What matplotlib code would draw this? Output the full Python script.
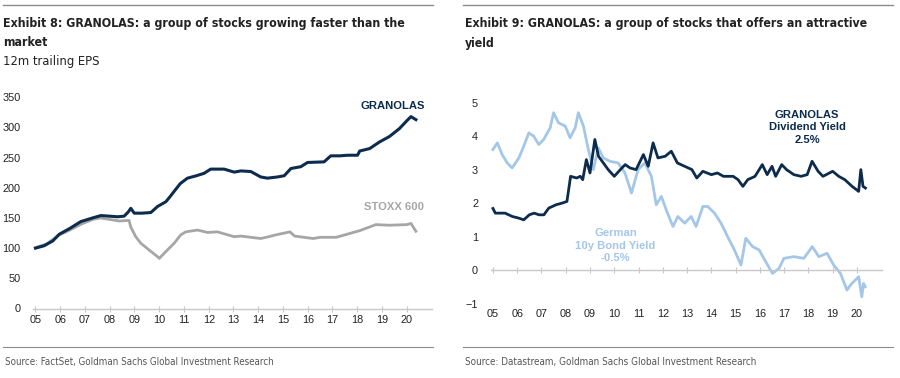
import matplotlib
matplotlib.use('Agg')
import matplotlib.pyplot as plt
from matplotlib.lines import Line2D
from matplotlib import font_manager

plt.rcParams['font.family'] = ['Liberation Sans', 'DejaVu Sans']

# ---------- Exhibit 8: 12m trailing EPS ----------
gran_eps_t = [2005.0, 2005.35, 2005.7, 2005.96, 2006.4, 2006.83, 2007.3, 2007.64, 2008.0, 2008.31,
              2008.58, 2008.75, 2008.85, 2008.99, 2009.3, 2009.66, 2009.93, 2010.27, 2010.45, 2010.6,
              2010.85, 2011.14, 2011.5, 2011.81, 2012.08, 2012.62, 2013.03, 2013.3, 2013.7, 2014.1,
              2014.37, 2014.78, 2015.05, 2015.32, 2015.72, 2015.99, 2016.66, 2016.93, 2017.3, 2017.61,
              2018.01, 2018.1, 2018.5, 2018.9, 2019.3, 2019.7, 2020.0, 2020.17, 2020.37]
gran_eps = [100, 104, 112, 123, 133, 144, 150, 154, 153, 152,
            153, 160, 166, 158, 158, 159, 169, 177, 186, 194,
            207, 216, 220, 224, 231, 231, 226, 228, 227, 218,
            216, 218, 220, 232, 235, 242, 243, 253, 253, 254,
            254, 261, 265, 276, 285, 298, 311, 318, 313]

stoxx_t = [2005.0, 2005.45, 2005.92, 2006.39, 2006.86, 2007.34, 2007.62, 2008.09, 2008.38, 2008.78,
           2008.85, 2009.05, 2009.26, 2009.59, 2009.93, 2010.0, 2010.33, 2010.6, 2010.87, 2011.07,
           2011.55, 2011.95, 2012.35, 2012.6, 2013.03, 2013.3, 2013.7, 2014.1, 2014.43, 2014.71,
           2015.28, 2015.47, 2015.84, 2016.22, 2016.5, 2017.15, 2018.1, 2018.75, 2019.3, 2020.0,
           2020.17, 2020.37]
stoxx_eps = [101, 107, 121, 130, 140, 148, 150, 147, 145, 146,
             135, 119, 108, 97, 86, 83, 97, 108, 122, 127,
             130, 126, 127, 124, 119, 120, 118, 116, 119, 122,
             127, 120, 118, 116, 118, 118, 129, 139, 138, 139,
             141, 128]

eps_yticks = [0, 50, 100, 150, 200, 250, 300, 350]

# ---------- Exhibit 9: yields (%) ----------
bund_t = [2005.0, 2005.18, 2005.38, 2005.59, 2005.79, 2006.07, 2006.27, 2006.48, 2006.68, 2006.89,
          2007.09, 2007.36, 2007.5, 2007.7, 2007.98, 2008.18, 2008.39, 2008.52, 2008.73, 2008.93,
          2009.14, 2009.34, 2009.55, 2009.82, 2010.16, 2010.44, 2010.71, 2010.98, 2011.26, 2011.53,
          2011.73, 2011.94, 2012.14, 2012.42, 2012.62, 2012.9, 2013.17, 2013.37, 2013.65, 2013.85,
          2014.13, 2014.4, 2014.67, 2014.95, 2015.22, 2015.42, 2015.7, 2015.97, 2016.24, 2016.52,
          2016.79, 2016.99, 2017.4, 2017.81, 2018.16, 2018.43, 2018.77, 2019.04, 2019.32, 2019.59,
          2019.73, 2019.93, 2020.07, 2020.2, 2020.27, 2020.34]
bund_yield = [3.6, 3.8, 3.45, 3.2, 3.05, 3.35, 3.7, 4.1, 4.0, 3.75,
              3.9, 4.25, 4.7, 4.4, 4.3, 3.95, 4.25, 4.7, 4.3, 3.6,
              3.0, 3.65, 3.35, 3.25, 3.2, 2.9, 2.3, 3.0, 3.2, 2.8,
              1.95, 2.2, 1.8, 1.3, 1.6, 1.4, 1.6, 1.3, 1.9, 1.9,
              1.7, 1.4, 1.0, 0.6, 0.15, 0.95, 0.7, 0.6, 0.25, -0.1,
              0.05, 0.35, 0.4, 0.35, 0.7, 0.4, 0.5, 0.15, -0.1, -0.6,
              -0.45, -0.3, -0.2, -0.8, -0.4, -0.5]

divy_t = [2005.0, 2005.1, 2005.5, 2005.8, 2006.07, 2006.27, 2006.5, 2006.7, 2006.9, 2007.1,
          2007.3, 2007.6, 2007.85, 2008.05, 2008.2, 2008.45, 2008.6, 2008.7, 2008.85, 2009.0,
          2009.2, 2009.35, 2009.55, 2009.75, 2010.0, 2010.25, 2010.45, 2010.65, 2010.9, 2011.2,
          2011.4, 2011.6, 2011.8, 2012.1, 2012.35, 2012.6, 2012.9, 2013.2, 2013.4, 2013.65,
          2014.0, 2014.25, 2014.5, 2014.9, 2015.1, 2015.3, 2015.5, 2015.8, 2016.1, 2016.3,
          2016.5, 2016.65, 2016.9, 2017.1, 2017.4, 2017.7, 2017.95, 2018.15, 2018.4, 2018.6,
          2019.0, 2019.25, 2019.5, 2019.8, 2020.07, 2020.16, 2020.25, 2020.35]
divy_yield = [1.84, 1.7, 1.7, 1.6, 1.55, 1.5, 1.65, 1.7, 1.65, 1.65,
              1.85, 1.95, 2.0, 2.05, 2.8, 2.75, 2.8, 2.7, 3.3, 2.9,
              3.9, 3.4, 3.2, 3.0, 2.8, 3.0, 3.15, 3.05, 3.0, 3.45,
              3.1, 3.8, 3.35, 3.4, 3.55, 3.2, 3.1, 3.0, 2.75, 2.95,
              2.85, 2.9, 2.8, 2.8, 2.7, 2.5, 2.7, 2.8, 3.15, 2.85,
              3.1, 2.8, 3.15, 3.0, 2.85, 2.8, 2.85, 3.25, 2.95, 2.8,
              2.95, 2.8, 2.7, 2.5, 2.35, 3.0, 2.5, 2.45]

yield_yticks = [-1, 0, 1, 2, 3, 4, 5]

years = list(range(2005, 2021))
year_labels = [f'{y % 100:02d}' for y in years]

NAVY = '#0d2c4d'
GREY = '#a6a6a6'
LIGHT = '#a4c7e9'
AXIS = '#c8c8c8'
TXT = '#222222'

# narrow face for the headers if there is one
head_kw = dict(family=['Liberation Sans', 'DejaVu Sans'])
for f in font_manager.fontManager.ttflist:
    if 'narrow' in f.name.lower() or 'condensed' in f.name.lower() or str(f.stretch).lower() in ('condensed', 'semi-condensed'):
        head_kw = dict(family=[f.name, 'Liberation Sans', 'DejaVu Sans'], fontstretch=f.stretch)
        break

fig = plt.figure(figsize=(9, 3.78), dpi=100)
W, H = 900.0, 378.0


def fx(px):
    return px / W


def fy(py):
    return 1 - py / H


def style_axis(ax):
    for s in ['left', 'right', 'top']:
        ax.spines[s].set_visible(False)
    ax.spines['bottom'].set_color(AXIS)
    ax.spines['bottom'].set_linewidth(1.0)
    ax.tick_params(axis='y', length=0, labelsize=7.8, labelcolor=TXT, pad=9)
    ax.tick_params(axis='x', direction='inout', length=4, color=AXIS, labelsize=7.8, labelcolor=TXT)
    ax.set_xticks(years)
    ax.set_xticklabels(year_labels)
    ax.set_xlim(2004.9, 2021.02)
    ax.patch.set_alpha(0)


# left panel
ax1 = fig.add_axes([fx(33), fy(308.5), fx(432 - 33), (308.5 - 97.3) / H])
ax1.plot(stoxx_t, stoxx_eps, color=GREY, lw=2.0, solid_joinstyle='round')
ax1.plot(gran_eps_t, gran_eps, color=NAVY, lw=2.2, solid_joinstyle='round')
style_axis(ax1)
ax1.set_ylim(0, 350)
ax1.set_yticks(eps_yticks)
ax1.tick_params(axis='x', pad=3)
ax1.text(2019.45, 335, 'GRANOLAS', color=NAVY, fontsize=8.1, fontweight='bold', ha='center', va='center')
ax1.text(2019.5, 168, 'STOXX 600', color=GREY, fontsize=8.1, fontweight='bold', ha='center', va='center')

# right panel
ax2 = fig.add_axes([fx(490.5), fy(303.5), fx(881.7 - 490.5), (303.5 - 102.7) / H])
ax2.plot(bund_t, bund_yield, color=LIGHT, lw=2.0, solid_joinstyle='round')
ax2.plot(divy_t, divy_yield, color=NAVY, lw=2.0, solid_joinstyle='round')
style_axis(ax2)
ax2.set_ylim(-1, 5)
ax2.set_yticks(yield_yticks)
ax2.spines['bottom'].set_position(('data', 0))
ax2.tick_params(axis='x', pad=26)
ax2.text(2017.95, 4.27, 'GRANOLAS\nDividend Yield\n2.5%', color=NAVY, fontsize=8.1, fontweight='bold',
         ha='center', va='center', linespacing=1.3)
ax2.text(2010.05, 0.73, 'German\n10y Bond Yield\n-0.5%', color=LIGHT, fontsize=8.1, fontweight='bold',
         ha='center', va='center', linespacing=1.3)

# headers, rules and sources
for x0, x1 in [(3, 433), (463, 893)]:
    fig.add_artist(Line2D([fx(x0), fx(x1)], [fy(5), fy(5)], color='#8c8c8c', lw=1.0))
    fig.add_artist(Line2D([fx(x0), fx(x1)], [fy(347), fy(347)], color='#8c8c8c', lw=0.8))

renderer = fig.canvas.get_renderer()


def fit_text(x, y, s, width_px, size, group=None, **kw):
    t = fig.text(fx(x), fy(y), s, fontsize=size, va='center', **head_kw, **kw)
    if width_px:
        w = t.get_window_extent(renderer).width
        t.set_fontsize(size * width_px / w)
    return t


t1 = fit_text(3, 23, 'Exhibit 8: GRANOLAS: a group of stocks growing faster than the', 404, 10.5,
              fontweight='bold', color=TXT)
t2 = fit_text(465, 23, 'Exhibit 9: GRANOLAS: a group of stocks that offers an attractive', 403, 10.5,
              fontweight='bold', color=TXT)
fit_text(3, 43, 'market', None, t1.get_fontsize(), fontweight='bold', color=TXT)
fit_text(465, 43, 'yield', None, t2.get_fontsize(), fontweight='bold', color=TXT)
fit_text(3, 62, '12m trailing EPS', 96, 10, color=TXT)

fit_text(5, 362, 'Source: FactSet, Goldman Sachs Global Investment Research', 266, 7.5, color='#555555')
fit_text(465, 362, 'Source: Datastream, Goldman Sachs Global Investment Research', 290, 7.5, color='#555555')

fig.savefig('out.png', dpi=100)
